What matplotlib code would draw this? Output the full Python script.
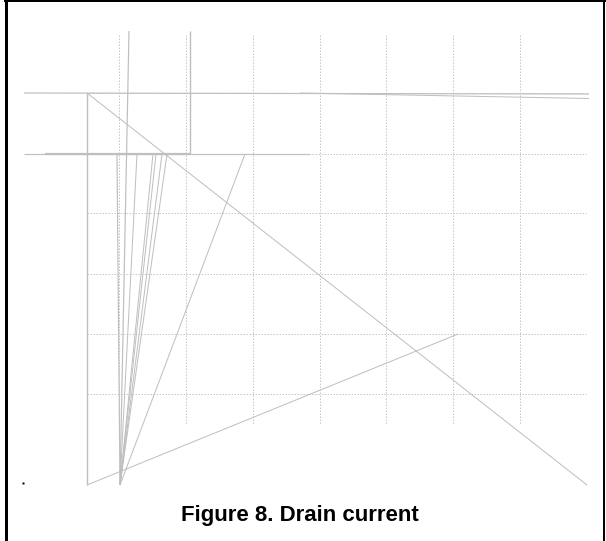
import matplotlib
matplotlib.use("Agg")
import matplotlib.pyplot as plt

# Coordinates are in figure pixel units (x right, y down)
W, H = 606, 541

# dotted grid
grid_x = [119, 186, 253, 320, 386, 453, 520]
grid_x_span = (35, 425)
grid_y = [93, 154, 213, 274, 334, 394]
grid_y_span = (87, 586)

# solid grey segments: (x0, y0, x1, y1)
seg_x0 = [24, 300, 24, 190, 190, 87, 87, 87, 120, 120, 120, 120, 120, 120, 120, 120]
seg_y0 = [93, 93, 154, 154, 31, 93, 93, 485, 485, 485, 485, 485, 485, 485, 485, 485]
seg_x1 = [589, 589, 309, 190, 190, 87, 587, 458, 117, 129, 137, 153, 156, 162, 167, 245]
seg_y1 = [94, 98.5, 154, 154, 154, 485, 485, 334, 154, 31, 154, 154, 154, 154, 154, 154]
seg_w = [1.2, 1.0, 1.2, 1.0, 1.4, 1.4, 1.0, 1.0, 1.2, 1.2, 1.0, 1.0, 1.0, 1.0, 1.0, 1.0]

# thicker overlay on y=154
thick_x = [45, 190]
thick_y = [154, 154]

title = "Figure 8. Drain current"

fig = plt.figure(figsize=(W / 100, H / 100), dpi=100)
ax = fig.add_axes([0, 0, 1, 1])
ax.set_xlim(0, W)
ax.set_ylim(H, 0)
ax.axis("off")

px = 0.72  # one pixel in points

gc = "#c8c8c8"
for gx in grid_x:
    ax.plot([gx, gx], grid_x_span, color=gc, lw=1 * px, ls=(0, (1.5, 1.5)))
for gy in grid_y:
    ax.plot(grid_y_span, [gy, gy], color=gc, lw=1 * px, ls=(0, (1.5, 1.5)))

lc = "#bfbfbf"
for x0, y0, x1, y1, w in zip(seg_x0, seg_y0, seg_x1, seg_y1, seg_w):
    ax.plot([x0, x1], [y0, y1], color=lc, lw=w * px, solid_capstyle="butt")
ax.plot(thick_x, thick_y, color=lc, lw=2.2 * px, solid_capstyle="butt")

# small black dot
ax.plot([22.5], [483], marker="s", ms=2 * px, color="black", mec="none")

# border
ax.plot([5.5, 5.5], [0, H], color="black", lw=3 * px, solid_capstyle="butt")
ax.plot([4, W], [1, 1], color="black", lw=2 * px, solid_capstyle="butt")
ax.plot([604, 604], [0, H], color="black", lw=2 * px, solid_capstyle="butt")

ax.text(300, 515, title, ha="center", va="center", fontsize=16,
        fontweight="bold", family=["Liberation Sans", "DejaVu Sans"], color="black")

fig.savefig("out.png", dpi=100)
